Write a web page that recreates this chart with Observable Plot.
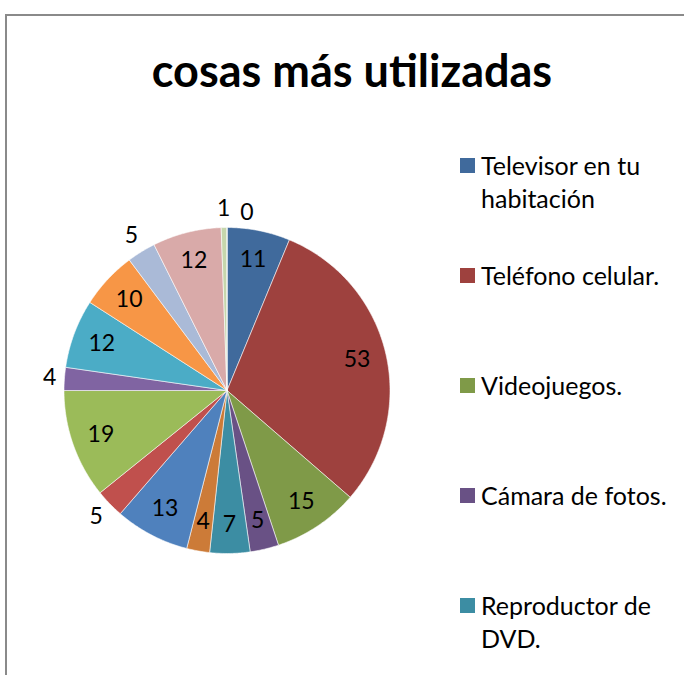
<!DOCTYPE html>
<html>
<head>
<meta charset="utf-8">
<script src="https://cdn.jsdelivr.net/npm/d3@7"></script>
<script src="https://cdn.jsdelivr.net/npm/@observablehq/plot@0.6"></script>
<style>
  html, body { margin: 0; padding: 0; background: #fff; }
  #wrap { position: relative; width: 684px; height: 675px; overflow: hidden; font-family: Lato, "Open Sans", sans-serif; }
  #frame { position: absolute; left: 5px; top: 14px; width: 700px; height: 700px; border-top: 2px solid #8a8a8a; border-left: 2px solid #8a8a8a; }
  #title { position: absolute; left: 0; width: 704px; top: 40px; text-align: center; font-weight: 700; font-size: 45px; color: #000; line-height: 60px; }
  #chart { position: absolute; left: 0; top: 0; }
  .item { position: absolute; left: 460px; display: flex; align-items: flex-start; }
  .sw { width: 15px; height: 15px; margin-top: 9px; flex: none; }
  .lab { margin-left: 6px; width: 205px; font-size: 25px; line-height: 33px; color: #000; }
</style>
</head>
<body>
<div id="wrap">
  <div id="frame"></div>
  <div id="chart"></div>
  <div id="title"></div>
  <div id="legend"></div>
</div>
<script>
const title = "cosas más utilizadas";
const categories = [
  "Televisor en tu habitación",
  "Teléfono celular.",
  "Videojuegos.",
  "Cámara de fotos.",
  "Reproductor de DVD.",
  "Serie 6", "Serie 7", "Serie 8", "Serie 9", "Serie 10",
  "Serie 11", "Serie 12", "Serie 13", "Serie 14", "Serie 15", "Serie 16"
];
const values = [11, 53, 15, 5, 7, 4, 13, 5, 19, 4, 12, 10, 5, 12, 1, 0];
const colors = [
  "#406a9c", "#9e413e", "#7f9a48", "#695185", "#3c8da3", "#cc7b38",
  "#4f81bd", "#c0504d", "#9bbb59", "#8064a2", "#4bacc6", "#f79646",
  "#aabad7", "#d9aaa9", "#c6d6ac", "#bab0c9"
];
const legendShown = 5;

// styling config (not data)
const outsideLabels = new Set([7, 9, 12, 14, 15]);
const labelNudge = {9: [4, 0], 15: [20, 4]};

document.getElementById("title").textContent = title;

const cx = 226.5, cy = 390, r = 163;
const total = d3.sum(values);
const slices = [];
const labels = [];
let cum = 0;
values.forEach((v, i) => {
  const a0 = cum / total * 2 * Math.PI;
  const a1 = (cum + v) / total * 2 * Math.PI;
  cum += v;
  const steps = Math.max(2, Math.ceil((a1 - a0) / 0.01));
  slices.push({cat: categories[i], x: 0, y: 0});
  for (let k = 0; k <= steps; k++) {
    const a = a0 + (a1 - a0) * k / steps;
    slices.push({cat: categories[i], x: Math.sin(a), y: Math.cos(a)});
  }
  slices.push({cat: categories[i], x: 0, y: 0});
  const am = (a0 + a1) / 2;
  const rr = outsideLabels.has(i) ? 1.115 : 0.82;
  const n = labelNudge[i] || [0, 0];
  labels.push({v, x: rr * Math.sin(am), y: rr * Math.cos(am), dx: n[0], dy: n[1]});
});

const plot = Plot.plot({
  width: 684,
  height: 675,
  margin: 0,
  x: {domain: [-1, 1], range: [cx - r, cx + r], axis: null},
  y: {domain: [-1, 1], range: [cy + r, cy - r], axis: null},
  color: {domain: categories, range: colors},
  style: {background: "transparent", overflow: "visible"},
  marks: [
    Plot.line(slices, {x: "x", y: "y", z: "cat", fill: "cat", stroke: "#ffffff", strokeWidth: 0.7, strokeOpacity: 0.8, curve: "linear"}),
    ...labels.map(l => Plot.text([l], {x: "x", y: "y", text: "v", dx: l.dx, dy: l.dy, fontSize: 23, fill: "#000", fontFamily: "Lato, sans-serif", textAnchor: "middle"}))
  ]
});
document.getElementById("chart").appendChild(plot);

const legend = document.getElementById("legend");
for (let i = 0; i < legendShown; i++) {
  const it = document.createElement("div");
  it.className = "item";
  it.style.top = (149 + i * 110) + "px";
  const sw = document.createElement("div");
  sw.className = "sw";
  sw.style.background = colors[i];
  const lab = document.createElement("div");
  lab.className = "lab";
  lab.textContent = categories[i];
  it.appendChild(sw); it.appendChild(lab);
  legend.appendChild(it);
}
</script>
</body>
</html>
